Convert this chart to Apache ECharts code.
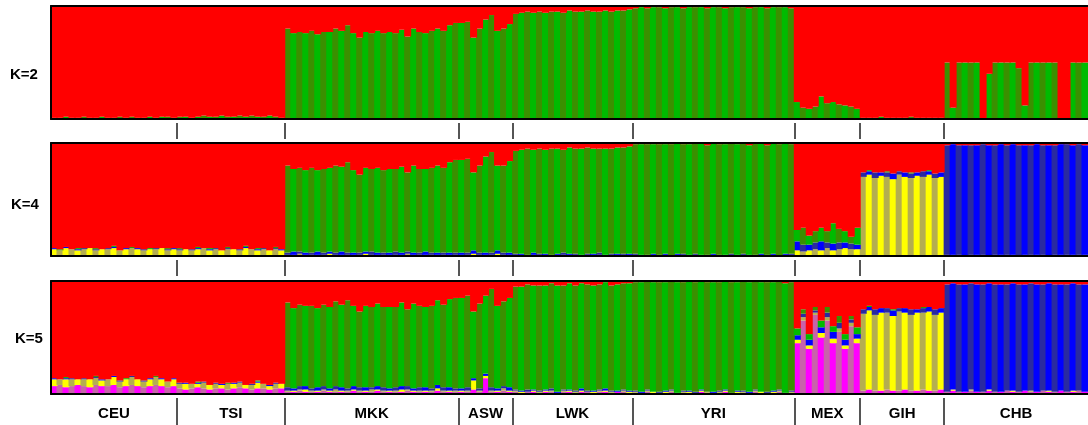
<!DOCTYPE html>
<html>
<head>
<meta charset="utf-8">
<script src="https://cdn.jsdelivr.net/npm/echarts@6/dist/echarts.min.js"></script>
<style>
  html, body { margin: 0; padding: 0; background: #fff; }
  #chart { width: 1088px; height: 425px; }
</style>
</head>
<body>
<div id="chart"></div>
<script>
// populations and number of bars drawn for each
const POPS = ['CEU', 'TSI', 'MKK', 'ASW', 'LWK', 'YRI', 'MEX', 'GIH', 'CHB'];
const POP_SIZES = [21, 18, 29, 9, 20, 27, 11, 14, 24];
const K_LABELS = ['K=2', 'K=4', 'K=5'];

// ancestry fractions in percent, one line per population (red = remainder)
const K2_GREEN = [
  1,1,2,1,1,2,1,1,2,1,1,2,1,2,1,1,2,1,2,2,1,
  2,2,1,2,3,2,2,3,2,2,3,2,3,2,2,3,2,1,
  80,76,77,76,78,75,77,77,80,78,83,76,72,77,76,78,76,77,76,79,73,80,77,76,78,80,78,83,85,
  85,86,72,80,88,92,78,80,84,
  93,94,95,94,95,94,95,95,94,96,95,95,96,95,95,96,95,96,96,97,
  98,99,98,99,99,98,99,99,98,99,99,99,98,99,99,98,99,99,99,98,99,99,98,99,99,99,98,
  15,10,9,11,20,14,15,13,12,11,9,
  1,1,1,2,1,1,1,1,2,1,1,1,1,1,
  50,10,50,50,50,50,0,40,50,50,50,50,45,12,50,50,50,50,50,0,0,50,50,50
];

const K4_YELLOW = [
  6,5,7,6,5,6,7,5,6,6,7,5,6,7,6,5,6,6,7,5,6,
  5,6,5,6,7,5,6,5,6,6,5,7,6,5,6,5,6,5,
  1,1,2,1,1,1,1,2,1,1,1,1,1,2,1,1,1,1,1,1,2,1,1,1,1,1,1,1,1,
  1,1,2,1,1,1,2,1,1,
  1,1,0,1,1,1,0,1,1,1,1,0,1,1,1,0,1,1,1,1,
  1,0,1,1,0,1,0,1,1,0,1,1,0,1,0,1,1,0,1,0,1,1,0,1,0,1,1,
  5,4,5,6,5,7,5,6,7,6,6,
  70,72,69,71,70,68,72,70,69,71,70,72,69,70,
  1,1,1,0,1,1,1,0,1,1,1,1,0,1,1,1,1,0,1,1,1,1,1,1
];
const K4_BLUE = [
  1,0,1,0,1,1,0,1,0,1,1,0,1,0,1,1,0,1,0,1,1,
  1,0,1,1,0,1,1,0,1,0,1,1,0,1,1,0,1,1,
  2,3,2,2,2,3,2,2,2,3,2,2,2,2,3,2,2,2,3,2,2,2,2,3,2,2,2,2,2,
  2,2,3,2,2,2,3,2,2,
  1,1,1,2,1,1,1,1,2,1,1,1,1,1,2,1,1,1,1,1,
  1,1,0,1,1,1,0,1,1,1,1,0,1,1,1,0,1,1,1,1,0,1,1,1,0,1,1,
  8,6,5,6,8,5,6,6,5,5,4,
  4,3,5,3,4,5,3,4,4,3,5,3,4,4,
  97,98,97,98,97,97,98,98,97,98,97,98,98,97,97,98,97,98,97,98,98,97,98,97
];
const K4_GREEN = [
  0,1,0,0,1,0,0,1,0,0,1,0,0,1,0,0,1,0,0,1,0,
  1,0,0,1,0,1,0,0,1,0,0,1,0,1,0,0,1,0,
  77,73,74,73,75,72,74,74,77,75,80,73,69,74,73,75,73,74,73,76,70,77,74,73,75,77,75,80,82,
  82,83,69,77,85,89,75,77,81,
  91,92,94,91,93,92,94,93,91,94,93,94,94,93,92,94,93,94,94,95,
  97,98,98,97,98,97,99,98,97,98,98,99,97,98,98,98,98,98,98,97,99,98,97,98,99,98,97,
  10,15,8,10,12,10,18,12,10,6,15,
  0,1,0,0,1,0,0,0,1,0,0,1,0,0,
  0,0,0,0,0,0,0,0,0,0,0,0,0,0,0,0,0,0,0,0,0,0,0,0
];

const K5_MAGENTA = [
  7,8,6,7,8,7,6,8,7,7,8,6,7,8,7,6,7,8,7,6,7,
  5,4,5,6,5,4,5,5,4,5,6,5,4,5,5,4,5,5,
  2,2,3,2,2,2,3,2,2,2,2,3,2,2,2,3,2,2,2,2,3,2,2,2,2,3,2,2,2,
  2,2,4,2,14,2,2,3,2,
  2,1,2,2,1,2,2,1,2,2,1,2,2,1,2,2,1,2,2,1,
  1,1,2,1,1,1,2,1,1,1,1,2,1,1,1,2,1,1,1,1,2,1,1,1,2,1,1,
  45,65,40,70,50,65,45,55,40,60,45,
  3,4,3,3,4,3,3,4,3,3,4,3,3,4,
  2,3,2,2,3,2,2,3,2,2,3,2,2,3,2,2,3,2,2,3,2,2,3,2
];
const K5_YELLOW = [
  6,5,7,6,5,6,7,6,5,6,7,5,6,7,6,5,6,7,6,5,6,
  4,5,4,3,5,4,4,3,5,4,4,3,4,5,4,3,4,4,
  1,1,1,2,1,1,1,1,2,1,1,1,1,1,2,1,1,1,1,2,1,1,1,1,1,2,1,1,1,
  1,1,8,1,2,1,1,2,1,
  1,1,0,1,1,1,1,0,1,1,1,1,0,1,1,1,1,0,1,1,
  1,0,1,1,0,1,1,0,1,1,0,1,1,0,1,1,0,1,1,0,1,1,0,1,1,0,1,
  3,3,3,2,4,3,4,3,3,3,4,
  68,70,67,69,68,66,70,68,67,69,68,70,67,68,
  0,1,0,0,1,0,0,1,0,0,0,1,0,0,1,0,0,1,0,0,0,1,0,0
];
const K5_BLUE = [
  1,0,1,1,0,1,0,1,1,0,1,1,0,1,0,1,1,0,1,0,1,
  1,1,0,1,1,0,1,1,0,1,1,0,1,1,0,1,1,0,
  3,2,3,3,2,3,3,2,3,3,2,3,3,3,2,3,3,2,3,3,3,2,3,3,2,3,3,3,2,
  2,3,2,2,2,3,2,2,3,
  1,1,2,1,1,1,2,1,1,1,1,2,1,1,1,2,1,1,1,1,
  1,1,1,0,1,1,1,0,1,1,1,1,0,1,1,1,0,1,1,1,1,0,1,1,1,0,1,
  4,3,5,2,5,4,6,5,5,3,4,
  4,3,5,4,4,5,3,4,5,3,4,4,5,4,
  95,94,95,95,94,95,95,94,95,95,94,95,95,94,95,95,94,95,95,94,95,95,94,95
];
const K5_GREEN = [
  0,0,1,0,0,0,0,1,0,0,0,0,1,0,0,0,0,1,0,0,0,
  0,0,0,1,0,0,0,0,1,0,0,0,0,1,0,0,0,0,
  75,71,72,71,73,70,72,72,75,73,78,71,67,72,71,73,71,72,71,74,68,75,72,71,73,75,73,78,80,
  80,81,59,75,69,87,73,75,79,
  91,92,93,92,93,92,93,94,92,94,93,93,94,93,93,94,93,94,94,95,
  96,97,96,97,97,96,96,98,96,97,97,96,97,97,96,96,98,96,97,97,96,97,97,96,96,97,96,
  6,4,5,3,6,5,5,6,5,3,6,
  0,1,0,0,0,1,0,0,0,0,1,0,0,0,
  0,0,0,0,0,0,0,0,0,0,0,0,0,0,0,0,0,0,0,0,0,0,0,0
];

// colour pairs: plain and the darker banded tone seen in the picture
const COLORS = {
  green:   ['#00bb00', '#3a9000'],
  yellow:  ['#ffff00', '#b4ae50'],
  blue:    ['#0000ff', '#2a2aa0'],
  magenta: ['#ff00ff', '#c862aa'],
  red:     ['#ff0000', '#ff0000']
};

const N = POP_SIZES.reduce((a, b) => a + b, 0);
const ids = Array.from({ length: N }, (_, i) => String(i));
const starts = [];
POP_SIZES.reduce((acc, s) => { starts.push(acc); return acc + s; }, 0);
const bounds = starts.slice(1);
const mids = starts.map((s, i) => s + POP_SIZES[i] / 2);

const panels = [
  { label: K_LABELS[0], top: 6,   labelLeft: 10, labelTop: 67,  comps: [['green', K2_GREEN]] },
  { label: K_LABELS[1], top: 143, labelLeft: 11, labelTop: 197, comps: [['yellow', K4_YELLOW], ['blue', K4_BLUE], ['green', K4_GREEN]] },
  { label: K_LABELS[2], top: 281, labelLeft: 15, labelTop: 331, comps: [['magenta', K5_MAGENTA], ['yellow', K5_YELLOW], ['blue', K5_BLUE], ['green', K5_GREEN]] }
];
const PANEL_H = 113;
const BAR_W = 6;
const FONT = 'Liberation Sans, Arial, sans-serif';
const border = { show: true, lineStyle: { color: '#000', width: 2 } };

const grid = [], xAxis = [], yAxis = [], series = [], title = [];

panels.forEach((p, i) => {
  grid.push({ left: 51, top: p.top, width: N * BAR_W, height: PANEL_H });
  title.push({
    text: p.label, left: p.labelLeft, top: p.labelTop, padding: 0,
    textStyle: { fontFamily: FONT, fontSize: 15, fontWeight: 'bold', color: '#000' }
  });
  const last = i === panels.length - 1;
  xAxis.push(
    { gridIndex: i, type: 'category', data: ids, position: 'bottom', z: 5,
      axisLine: border, axisTick: { show: false }, axisLabel: { show: false } },
    { gridIndex: i, type: 'value', position: 'top', min: 0, max: N, z: 5,
      axisLine: border, axisTick: { show: false }, axisLabel: { show: false }, splitLine: { show: false } },
    { gridIndex: i, type: 'value', position: 'bottom', offset: 4, min: 0, max: N,
      axisLine: { show: false }, splitLine: { show: false },
      axisTick: { show: true, length: last ? 30 : 16, customValues: bounds,
                  lineStyle: { color: '#555', width: 2 } },
      axisLabel: { show: last, customValues: mids, margin: 8,
                   fontFamily: FONT, fontSize: 15, fontWeight: 'bold', color: '#000',
                   formatter: v => POPS[mids.indexOf(v)] || '' } }
  );
  yAxis.push({ gridIndex: i, type: 'value', min: 0, max: 100, z: 5,
    axisLine: border, axisTick: { show: false }, axisLabel: { show: false }, splitLine: { show: false } });

  const addBar = (name, data) => {
    const c = COLORS[name];
    series.push({
      type: 'bar', name: name, xAxisIndex: i * 3, yAxisIndex: i, stack: 'k' + i,
      data: data, barWidth: BAR_W + 1, silent: true,
      itemStyle: { color: prm => c[prm.dataIndex % 2] }
    });
  };
  p.comps.forEach(([name, data]) => addBar(name, data));
  const red = ids.map((_, j) => Math.max(0, 100 - p.comps.reduce((s, [, d]) => s + d[j], 0)));
  addBar('red', red);
});

const chart = echarts.init(document.getElementById('chart'), null, { renderer: 'canvas' });
chart.setOption({
  animation: false,
  backgroundColor: '#fff',
  title, grid, xAxis, yAxis, series
});
</script>
</body>
</html>
